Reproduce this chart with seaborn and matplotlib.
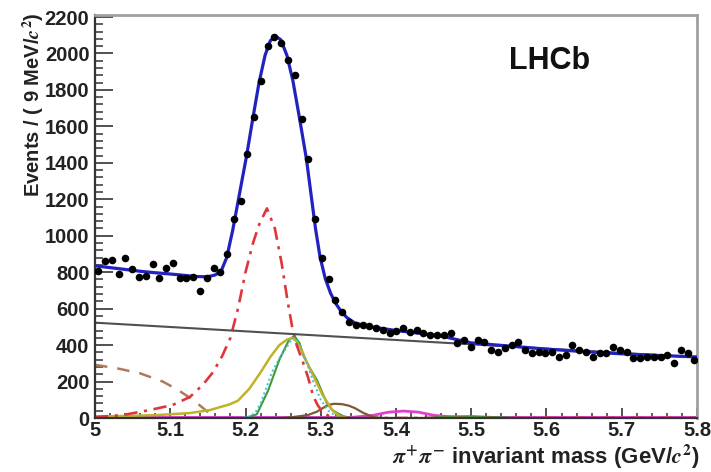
import numpy as np
import matplotlib
matplotlib.use("Agg")
import matplotlib.pyplot as plt
import seaborn as sns
from matplotlib.ticker import MultipleLocator, FixedLocator

# ---------------- data ----------------
mass_lo = 5.0
bin_width = 0.009
counts = [805, 860, 865, 790, 877, 820, 775, 780, 845, 770,
          825, 850, 770, 770, 775, 695, 770, 825, 800, 900,
          1090, 1190, 1450, 1650, 1850, 2040, 2090, 2060, 1965, 1880,
          1640, 1420, 1090, 880, 760, 645, 580, 525, 510, 510,
          505, 494, 483, 466, 475, 494, 472, 483, 466, 455,
          455, 455, 466, 411, 428, 389, 428, 417, 373, 362,
          384, 400, 417, 373, 357, 362, 357, 362, 335, 346,
          400, 373, 362, 335, 357, 357, 389, 373, 362, 329,
          329, 335, 335, 335, 346, 302, 373, 357, 318]
bin_centres = mass_lo + bin_width * (np.arange(len(counts)) + 0.5)

# total fit (blue)
fit_x = [5.000, 5.020, 5.040, 5.060, 5.080, 5.100, 5.120, 5.135, 5.150, 5.160,
         5.168, 5.175, 5.183, 5.192, 5.2015, 5.210, 5.218, 5.226, 5.233, 5.240,
         5.247, 5.255, 5.263, 5.272, 5.281, 5.287, 5.293, 5.299, 5.306, 5.313,
         5.320, 5.327, 5.335, 5.345, 5.360, 5.380, 5.400, 5.430, 5.460, 5.500,
         5.550, 5.600, 5.650, 5.700, 5.750, 5.800]
fit_y = [835, 825, 815, 805, 797, 790, 782, 776, 775, 785,
         810, 880, 1030, 1230, 1440, 1650, 1840, 1990, 2070, 2095,
         2075, 1990, 1850, 1640, 1420, 1230, 1040, 885, 765, 685,
         628, 585, 550, 522, 505, 492, 480, 465, 450, 412,
         395, 378, 364, 352, 343, 335]

# combinatorial background (grey line)
bkg_x = [5.0, 5.8]
bkg_y = [523, 333]

# partially reconstructed (brown dashed)
prec_x = [5.000, 5.030, 5.060, 5.090, 5.110, 5.130, 5.145, 5.155, 5.162]
prec_y = [292, 272, 245, 200, 155, 100, 50, 15, 0]

# main peak component (red dash-dot)
red_x = [5.000, 5.037, 5.073, 5.103, 5.126, 5.143, 5.157, 5.169, 5.180, 5.190,
         5.200, 5.210, 5.218, 5.2285, 5.239, 5.248, 5.256, 5.262, 5.268, 5.276,
         5.283, 5.290, 5.296, 5.303, 5.312, 5.320, 5.800]
red_y = [5, 16, 44, 71, 115, 181, 252, 340, 440, 600,
         800, 960, 1060, 1150, 1040, 850, 640, 500, 400, 310,
         225, 120, 70, 30, 8, 0, 0]

# olive solid component
olive_x = [5.000, 5.050, 5.082, 5.126, 5.153, 5.179, 5.190, 5.205, 5.220, 5.233,
           5.245, 5.255, 5.262, 5.268, 5.275, 5.281, 5.288, 5.295, 5.302, 5.308,
           5.316, 5.325, 5.335]
olive_y = [8, 12, 16, 27, 44, 75, 95, 160, 250, 335,
           400, 430, 440, 420, 370, 310, 250, 190, 130, 90,
           40, 10, 0]

# cyan dotted component
cyan_x = [5.190, 5.205, 5.213, 5.220, 5.228, 5.235, 5.246, 5.255, 5.263, 5.270,
          5.280, 5.290, 5.300, 5.310, 5.320, 5.330]
cyan_y = [0, 8, 30, 80, 170, 250, 335, 390, 440, 420,
          320, 200, 100, 40, 10, 0]

# green solid component
green_x = [5.200, 5.215, 5.230, 5.245, 5.258, 5.265, 5.272, 5.277, 5.286, 5.295,
           5.302, 5.308, 5.315, 5.322, 5.330, 5.340, 5.440, 5.470, 5.500, 5.530, 5.560]
green_y = [0, 20, 150, 320, 430, 450, 410, 340, 270, 208,
           140, 82, 45, 27, 10, 0, 0, 8, 10, 5, 0]

# small brown bump
brown_x = [5.250, 5.263, 5.283, 5.295, 5.303, 5.310, 5.318, 5.328, 5.337, 5.345,
           5.357, 5.370, 5.380]
brown_y = [0, 5, 16, 35, 55, 72, 78, 76, 68, 55, 27, 5, 0]

# magenta component
mag_x = [5.000, 5.340, 5.370, 5.390, 5.410, 5.430, 5.450, 5.480, 5.800]
mag_y = [3, 3, 15, 32, 38, 32, 15, 3, 3]

xtick_values = [5.0, 5.1, 5.2, 5.3, 5.4, 5.5, 5.6, 5.7, 5.8]
xtick_labels = ["5", "5.1", "5.2", "5.3", "5.4", "5.5", "5.6", "5.7", "5.8"]
ytick_values = [0, 200, 400, 600, 800, 1000, 1200, 1400, 1600, 1800, 2000, 2200]

# ---------------- style ----------------
sns.set_style("ticks")
plt.rcParams["font.family"] = ["Liberation Sans", "DejaVu Sans"]
plt.rcParams["mathtext.fontset"] = "stix"
plt.rcParams["font.weight"] = "bold"

fig = plt.figure(figsize=(7.11, 4.72), dpi=100)
ax = fig.add_axes([95 / 711, 54 / 472, 602 / 711, 403 / 472])


def curve(x, y, color, lw, ls="-", z=2):
    sns.lineplot(x=x, y=y, ax=ax, color=color, lw=lw, linestyle=ls,
                 sort=False, estimator=None, legend=False, zorder=z)


curve(mag_x, mag_y, "#e040d0", 2.0, z=2)
curve(green_x, green_y, "#3f9a3a", 1.5, z=2)
curve(olive_x, olive_y, "#c0b228", 1.8, z=2.1)
curve(cyan_x, cyan_y, "#3cc0e0", 1.4, ls=(0, (1, 1.5)), z=2.2)
curve(brown_x, brown_y, "#7a5a34", 1.6, z=2)
curve(prec_x, prec_y, "#b07a5a", 1.8, ls=(0, (5, 4)), z=2)
curve(red_x, red_y, "#e0363a", 1.9, ls=(0, (5, 2.5, 1.2, 2.5)), z=2.3)
curve(bkg_x, bkg_y, "#505050", 1.5, z=2.4)

curve(fit_x, fit_y, "#2222c0", 2.3, z=4)
sns.scatterplot(x=bin_centres, y=counts, ax=ax, color="black", s=30,
                edgecolor="black", linewidth=0, zorder=5, legend=False)

ax.set_xlim(5.0, 5.8)
ax.set_ylim(0, 2211)
ax.xaxis.set_major_locator(FixedLocator(xtick_values))
ax.set_xticklabels(xtick_labels)
ax.xaxis.set_minor_locator(MultipleLocator(0.02))
ax.yaxis.set_major_locator(FixedLocator(ytick_values))
ax.yaxis.set_minor_locator(MultipleLocator(40))

ax.tick_params(axis="both", which="both", direction="in", colors="#333333",
               labelcolor="#222222", labelsize=14.5)
ax.tick_params(axis="y", which="major", length=13, width=1.2, pad=4)
ax.tick_params(axis="y", which="minor", length=5.5, width=1.1)
ax.tick_params(axis="x", which="major", length=7, width=1.2, pad=2.5)
ax.tick_params(axis="x", which="minor", length=3.6, width=1.1)
for lab in ax.get_xticklabels() + ax.get_yticklabels():
    lab.set_fontweight("bold")

for side in ("left", "bottom"):
    ax.spines[side].set_color("#333333")
    ax.spines[side].set_linewidth(1.6)
for side in ("top", "right"):
    ax.spines[side].set_visible(True)
    ax.spines[side].set_color("#a0a0a0")
    ax.spines[side].set_linewidth(2.0)

ax.set_xlabel("")
ax.set_ylabel("")
fig.text(33 / 711, 1 - 12 / 472, "Events / ( 9 MeV/$c^{2}$)", rotation=90,
         ha="center", va="top", fontsize=14.5, fontweight="bold", color="#222222")
fig.text(700 / 711, 1 - 471 / 472, r"$\pi^{+}\pi^{-}$ invariant mass (GeV/$c^{2}$)",
         ha="right", va="bottom", fontsize=16, fontweight="bold", color="#222222")
fig.text(550 / 711, 1 - 61 / 472, "LHCb", ha="center", va="center",
         fontsize=22, fontweight="bold", color="#111111")

fig.savefig("out.png", dpi=100)
